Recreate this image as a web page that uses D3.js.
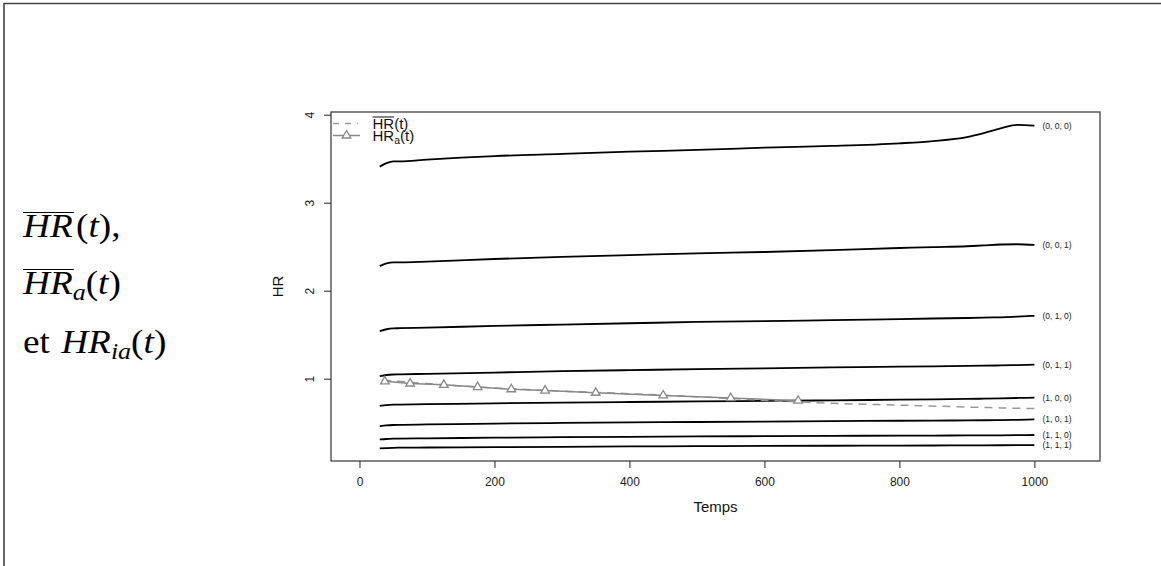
<!DOCTYPE html>
<html><head><meta charset="utf-8">
<script src="https://cdn.jsdelivr.net/npm/d3@7"></script>
<style>body{margin:0;background:#fff}svg{display:block}</style>
</head><body><svg id="c" width="1161" height="566"></svg>
<script>
// ---------- data ----------
const times = [30, 40, 50, 60, 100, 200, 300, 400, 500, 600, 700, 800, 850, 900, 925, 950, 975, 1000];
const hr000 = [3.41, 3.45, 3.47, 3.47, 3.49, 3.53, 3.555, 3.58, 3.60, 3.625, 3.645, 3.675, 3.70, 3.745, 3.79, 3.845, 3.885, 3.875];
const hr001 = [2.28, 2.31, 2.322, 2.322, 2.33, 2.36, 2.385, 2.405, 2.425, 2.44, 2.46, 2.485, 2.495, 2.505, 2.515, 2.525, 2.528, 2.52];
const hr010 = [1.54, 1.562, 1.572, 1.574, 1.58, 1.60, 1.615, 1.63, 1.645, 1.655, 1.665, 1.678, 1.684, 1.69, 1.694, 1.698, 1.705, 1.715];
const hr011 = [1.03, 1.042, 1.048, 1.05, 1.055, 1.07, 1.085, 1.097, 1.108, 1.118, 1.128, 1.137, 1.141, 1.145, 1.148, 1.151, 1.155, 1.16];
const hr100 = [0.69, 0.70, 0.705, 0.706, 0.71, 0.72, 0.728, 0.735, 0.742, 0.748, 0.754, 0.762, 0.766, 0.77, 0.773, 0.777, 0.781, 0.785];
const hr101 = [0.462, 0.47, 0.474, 0.476, 0.48, 0.49, 0.497, 0.503, 0.508, 0.513, 0.518, 0.522, 0.524, 0.526, 0.528, 0.53, 0.533, 0.537];
const hr110 = [0.31, 0.315, 0.318, 0.32, 0.322, 0.33, 0.335, 0.34, 0.344, 0.347, 0.35, 0.353, 0.354, 0.355, 0.356, 0.357, 0.358, 0.36];
const hr111 = [0.208, 0.212, 0.215, 0.216, 0.218, 0.222, 0.226, 0.23, 0.233, 0.236, 0.238, 0.24, 0.241, 0.242, 0.243, 0.244, 0.245, 0.246];
const seriesLabels = ["(0, 0, 0)", "(0, 0, 1)", "(0, 1, 0)", "(0, 1, 1)", "(1, 0, 0)", "(1, 0, 1)", "(1, 1, 0)", "(1, 1, 1)"];

const hrBarTimes  = [35, 100, 200, 300, 400, 500, 600, 700, 800, 900, 1000];
const hrBarValues = [0.985, 0.945, 0.895, 0.86, 0.83, 0.795, 0.755, 0.72, 0.70, 0.678, 0.66];

const hrATimes  = [37.5, 75, 125, 175, 225, 275, 350, 450, 550, 650];
const hrAValues = [0.97, 0.945, 0.93, 0.905, 0.88, 0.865, 0.84, 0.81, 0.78, 0.75];

const xTicks = [0, 200, 400, 600, 800, 1000];
const yTicks = [1, 2, 3, 4];

// ---------- setup ----------
const W = 1161, H = 566;
const svg = d3.select("#c");
const plot = {left: 331, right: 1100, top: 112, bottom: 461};
const x = d3.scaleLinear().domain([-42.2, 1097.2]).range([plot.left, plot.right]);
const y = d3.scaleLinear().domain([0.0648, 4.0307]).range([plot.bottom, plot.top]);
const sans = "'Liberation Sans', Arial, Helvetica, sans-serif";
const serif = "'Liberation Serif', 'Times New Roman', serif";

// page frame
svg.append("line").attr("x1", 4).attr("x2", W).attr("y1", 3.5).attr("y2", 3.5)
  .attr("stroke", "#444").attr("stroke-width", 1.6);
svg.append("line").attr("x1", 4).attr("x2", 4).attr("y1", 3).attr("y2", H)
  .attr("stroke", "#444").attr("stroke-width", 1.6);

// ---------- left math caption ----------
function mathRow(yb, pieces) {
  const g = svg.append("g").attr("transform", `translate(23,${yb}) scale(1.13,1)`);
  let cx = 0;
  pieces.forEach(p => {
    cx += (p.pre || 0);
    const fs = p.sub ? 23 : 33;
    const t = g.append("text").attr("x", cx).attr("y", p.sub ? 6 : 0)
      .attr("font-family", serif).attr("font-size", fs)
      .attr("font-style", p.it ? "italic" : "normal").attr("fill", "#000").text(p.t);
    const w = t.node().getComputedTextLength();
    if (p.over) {
      g.append("line").attr("x1", cx).attr("x2", cx + w + 1).attr("y1", -24.5).attr("y2", -24.5)
        .attr("stroke", "#000").attr("stroke-width", 1.2);
    }
    cx += w + (p.post || 0);
  });
}
mathRow(237, [{t: "HR", it: true, over: true, post: 1}, {t: "(", pre: 2}, {t: "t", it: true}, {t: ")"}, {t: ","}]);
mathRow(294, [{t: "HR", it: true, over: true}, {t: "a", it: true, sub: true}, {t: "("}, {t: "t", it: true}, {t: ")"}]);
mathRow(353, [{t: "et"}, {t: "HR", it: true, pre: 10}, {t: "ia", it: true, sub: true}, {t: "("}, {t: "t", it: true}, {t: ")"}]);

// ---------- axes ----------
const gx = svg.append("g").attr("transform", `translate(0,${plot.bottom})`)
  .call(d3.axisBottom(x).tickValues(xTicks).tickSize(7).tickPadding(9).tickFormat(d3.format("d")));
gx.select(".domain").remove();
gx.selectAll("line").attr("stroke", "#222");
gx.selectAll("text").attr("font-family", sans).attr("font-size", 12).attr("fill", "#222");

const gy = svg.append("g").attr("transform", `translate(${plot.left},0)`)
  .call(d3.axisLeft(y).tickValues(yTicks).tickSize(7).tickFormat(d3.format("d")));
gy.select(".domain").remove();
gy.selectAll("line").attr("stroke", "#222");
gy.selectAll("text").attr("font-family", sans).attr("font-size", 12).attr("fill", "#222")
  .attr("x", null).attr("dy", "0.35em").attr("text-anchor", "middle")
  .attr("transform", "translate(-21,0) rotate(-90)");

svg.append("text").attr("x", (plot.left + plot.right) / 2).attr("y", 512)
  .attr("text-anchor", "middle").attr("font-family", sans).attr("font-size", 15).attr("fill", "#111").text("Temps");
svg.append("text").attr("transform", `translate(283,${(plot.top + plot.bottom) / 2}) rotate(-90)`)
  .attr("text-anchor", "middle").attr("font-family", sans).attr("font-size", 15).attr("fill", "#111").text("HR");

// plot box
svg.append("rect").attr("x", plot.left).attr("y", plot.top)
  .attr("width", plot.right - plot.left).attr("height", plot.bottom - plot.top)
  .attr("fill", "none").attr("stroke", "#333").attr("stroke-width", 1.2);

// ---------- curves ----------
const curves = [hr000, hr001, hr010, hr011, hr100, hr101, hr110, hr111];
const line = d3.line().x(d => x(d[0])).y(d => y(d[1])).curve(d3.curveMonotoneX);
curves.forEach((vals, i) => {
  const pts = times.map((t, j) => [t, vals[j]]);
  svg.append("path").attr("d", line(pts)).attr("fill", "none")
    .attr("stroke", "#000").attr("stroke-width", 1.8);
  svg.append("text").attr("x", x(times[times.length - 1]) + 8).attr("y", y(vals[vals.length - 1]))
    .attr("dy", "0.35em").attr("font-family", sans).attr("font-size", 8.5).attr("fill", "#222")
    .text(seriesLabels[i]);
});

// HR bar (dashed)
svg.append("path").attr("d", line(hrBarTimes.map((t, j) => [t, hrBarValues[j]])))
  .attr("fill", "none").attr("stroke", "#999").attr("stroke-width", 1.5).attr("stroke-dasharray", "8,6");

// HR_a with triangles
const lineLin = d3.line().x(d => x(d[0])).y(d => y(d[1]));
svg.append("path").attr("d", lineLin(hrATimes.map((t, j) => [t, hrAValues[j]])))
  .attr("fill", "none").attr("stroke", "#888").attr("stroke-width", 1.5);
const tri = d3.symbol(d3.symbolTriangle, 32);
svg.selectAll(".tri").data(hrATimes.map((t, j) => [t, hrAValues[j]])).join("path")
  .attr("class", "tri").attr("d", tri)
  .attr("transform", d => `translate(${x(d[0])},${y(d[1])})`)
  .attr("fill", "#fff").attr("stroke", "#888").attr("stroke-width", 1.3);

// ---------- legend ----------
const lg = svg.append("g");
lg.append("line").attr("x1", 333).attr("x2", 358).attr("y1", 123.5).attr("y2", 123.5)
  .attr("stroke", "#999").attr("stroke-width", 1.5).attr("stroke-dasharray", "6,6");
lg.append("line").attr("x1", 333).attr("x2", 360).attr("y1", 135.5).attr("y2", 135.5)
  .attr("stroke", "#888").attr("stroke-width", 1.5);
lg.append("path").attr("d", tri).attr("transform", "translate(346.5,135.5)")
  .attr("fill", "#fff").attr("stroke", "#888").attr("stroke-width", 1.3);
const t1 = lg.append("text").attr("x", 372.5).attr("y", 128.5).attr("font-family", sans).attr("font-size", 15).attr("fill", "#111");
t1.append("tspan").text("HR");
t1.append("tspan").text("(t)");
const ovw = t1.node().getSubStringLength(0, 2);
lg.append("line").attr("x1", 372.5).attr("x2", 372.5 + ovw).attr("y1", 117).attr("y2", 117)
  .attr("stroke", "#111").attr("stroke-width", 1);
const t2 = lg.append("text").attr("x", 372.5).attr("y", 141).attr("font-family", sans).attr("font-size", 15).attr("fill", "#111");
t2.append("tspan").text("HR");
t2.append("tspan").attr("font-size", 10.5).attr("dy", 3).text("a");
t2.append("tspan").attr("dy", -3).text("(t)");
</script></body></html>
